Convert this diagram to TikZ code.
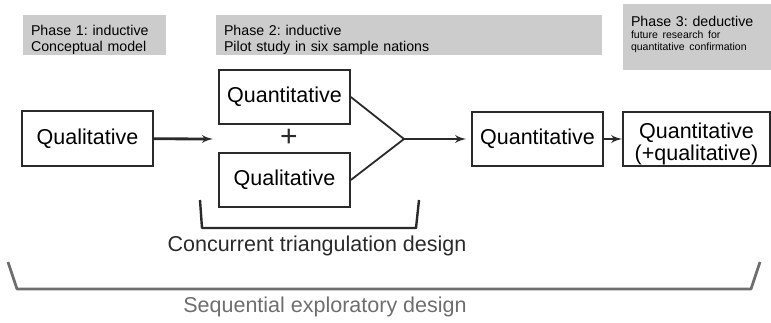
\documentclass[tikz,border=0pt]{standalone}
\usepackage{fontspec}
\setmainfont{Liberation Sans}
\usepackage{xcolor}
\usepackage{tikz}
\usetikzlibrary{shapes, arrows}
\frenchspacing
\definecolor{phasegray}{HTML}{CCCCCC}
\definecolor{inkgray}{HTML}{2A2A2A}
\definecolor{bracegray}{HTML}{6E6E6E}
\tikzstyle{phase} = [rectangle, fill=phasegray, align=left, inner xsep=8pt, inner ysep=0pt, font=\fontsize{14.2}{16.5}\selectfont]
\tikzstyle{method} = [rectangle, draw=inkgray, line width=1.6pt, text centered, inner sep=0pt, font=\fontsize{21.5}{22}\selectfont]
\tikzstyle{connector} = [draw=inkgray, line width=2.8pt, -latex']
\tikzstyle{merge} = [draw=inkgray, line width=1.8pt]
\tikzstyle{bracket} = [draw, line width=2.4pt, line join=round]

\begin{document}
\begin{tikzpicture}[x=1pt, y=-1pt]
        \useasboundingbox (0,0) rectangle (771,323);
        % phases
        \node [phase, minimum width=143pt, minimum height=40pt, text width=127pt] at (94.5,35.5) (phaseA) 
        {\rule{0pt}{18.5pt}Phase 1: inductive\\Conceptual model};
        \node [phase, minimum width=386pt, minimum height=40pt, text width=370pt] at (409,35.5) (phaseB) 
        {\rule{0pt}{18.5pt}Phase 2: inductive\\Pilot study in six sample nations};
        \node [phase, font=\fontsize{14.2}{12}\selectfont, minimum width=148pt, minimum height=66pt, text width=132pt] at (697,37) (phaseC) 
        {Phase 3: deductive\\\fontsize{10.5}{12}\selectfont future research for\\quantitative confirmation\rule[-7pt]{0pt}{7pt}};
        
        % methods
        \node [method, minimum width=131pt, minimum height=55pt] at (87.5,138.5) (qualfirst) {Qualitative};
        \node [method, minimum width=131pt, minimum height=54pt] at (284.5,97) (quantpilot) {Quantitative};
        \node [font=\fontsize{30}{30}\selectfont, text=inkgray, inner sep=0pt] at (289,138) (plus) {+};
        \node [method, minimum width=131pt, minimum height=54pt] at (284.5,180) (qualpilot) {Qualitative};
        \node [method, minimum width=131pt, minimum height=54pt] at (537.5,139) (quantmain) {Quantitative};
        \node [method, minimum width=147pt, minimum height=54pt, align=center] at (696.5,139) (quantfuture) 
        {\rule{0pt}{24.5pt}Quantitative\\(+qualitative)};
        
        \coordinate (mixin) at (213,139);
        \coordinate (join) at (404,139);
        
        \path [connector] (qualfirst) -- (mixin);
        \path [merge] (quantpilot.east) -- (join) -- (qualpilot.east);
        \path [connector, shorten >=5pt] (join) -- (quantmain);
        \path [connector] (quantmain) -- (quantfuture);
        
        % designs
        \path [bracket, inkgray] (200,200) -- (202,228) -- (416,228) -- (419,200);
        \node [font=\fontsize{21.5}{24}\selectfont, text=inkgray] at (317,246) (concurrent) 
        {Concurrent triangulation design};
        \path [bracket, bracegray, line width=2.8pt] (8,262) -- (17,289) -- (751,289) -- (760,262);
        \node [font=\fontsize{21.5}{24}\selectfont, text=bracegray] at (325,307) (sequential) 
        {Sequential exploratory design};
    \end{tikzpicture}
\end{document}
